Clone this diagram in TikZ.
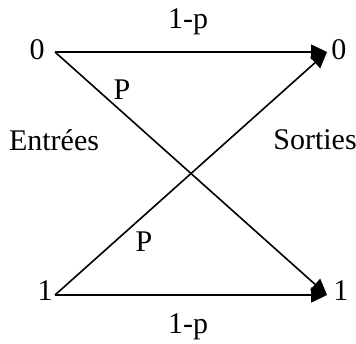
\documentclass[tikz,border=0pt]{standalone}
\usepackage{fontspec}
\setmainfont{Liberation Serif}
\usetikzlibrary{positioning,arrows.meta}

\begin{document}
\begin{tikzpicture}[
		x=0.5pt,y=-0.5pt,
		every node/.style={
			inner sep=0pt,
			font=\fontsize{15}{18}\selectfont
		},
		link/.style={line width=0.8pt,-{Triangle[length=8pt,width=7.5pt]}}
		]
		\useasboundingbox (0,0) rectangle (356,343);
		
		% ends of the lines
		\coordinate (i0) at (55,52);
		\coordinate (i1) at (55,295);
		\coordinate (o0) at (327,52);
		\coordinate (o1) at (327,295);
		
		\node[left=5pt of i0, yshift=1pt] (in0) {0};
		\node[left=1pt of i1, yshift=2pt] (in1) {1};
		\node[right=2pt of o0, yshift=1pt] (out0) {0};
		\node[right=3pt of o1, yshift=2pt] (out1) {1};
		
		\node (entrees) at (54,140) {Entrées};
		\node (sorties) at (315,140) {Sorties};
		
		\draw[link] (i0)--(o0);
		\draw[link] (i1)--(o1);
		\draw[link] (i0)--(o1);
		\draw[link] (i1)--(o0);
		
		\node (ptop) at (188,22) {1-p};
		\node (pbot) at (188,327) {1-p};
		\node (pa) at (122,90) {P};
		\node (pb) at (144,242) {P};
		
	\end{tikzpicture}
\end{document}
